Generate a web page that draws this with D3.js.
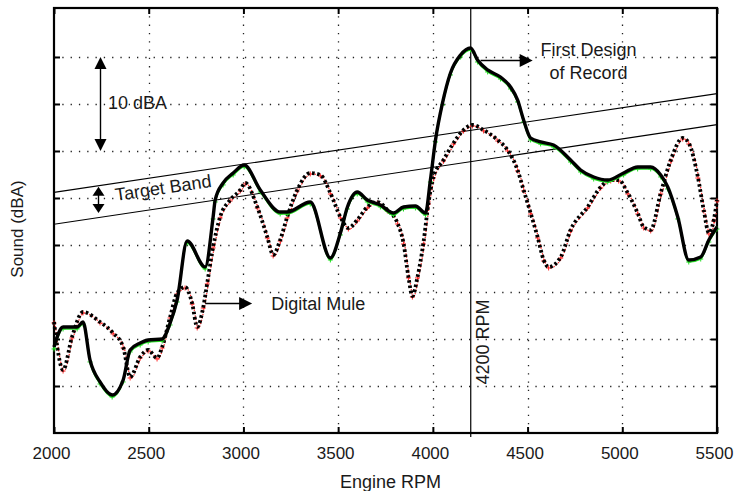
<!DOCTYPE html>
<html><head><meta charset="utf-8">
<script src="https://cdn.jsdelivr.net/npm/d3@7"></script>
<style>
body{margin:0;background:#fff;}
text{font-family:"Liberation Sans",Arial,sans-serif;fill:#1a1a1a;}
</style>
</head><body><svg id="c" width="737" height="491"></svg>
<script>
// ---- data ----
const rpmFirst = [2000,2048,2122,2153,2190,2243,2307,2365,2402,2455,2497,2571,2613,2650,2703,2798,2840,2851,2893,2946,3004,3089,3194,3231,3353,3459,3512,3549,3601,3654,3723,3792,3845,3908,3961,3987,4014,4051,4093,4146,4199,4236,4289,4357,4410,4447,4479,4516,4569,4637,4727,4780,4849,4923,5007,5081,5150,5203,5240,5293,5351,5414,5457,5500];
const dbFirst  = [69.15,71.28,71.28,71.81,67.77,65.43,64.04,65.64,68.83,69.57,69.89,70.0,71.7,74.15,80.43,77.66,82.98,84.79,86.6,87.66,88.51,85.85,83.51,83.51,84.57,78.62,81.28,84.04,85.64,84.79,84.26,83.4,84.04,84.15,83.4,86.91,91.17,95.11,98.3,100.21,100.96,99.68,98.62,97.87,96.81,95.43,93.3,91.38,90.96,90.64,89.04,87.98,87.23,86.91,87.66,88.3,88.3,87.45,86.17,82.98,78.4,78.72,80.53,81.91];
const rpmMule  = [2000,2048,2095,2153,2243,2312,2365,2402,2455,2497,2544,2571,2613,2650,2692,2729,2756,2788,2809,2840,2877,2930,2983,3010,3073,3126,3157,3194,3231,3284,3353,3406,3459,3512,3554,3601,3654,3707,3760,3813,3845,3871,3892,3919,3950,3977,4003,4056,4109,4162,4209,4268,4342,4394,4447,4479,4516,4553,4585,4611,4675,4727,4817,4886,4939,4981,5029,5081,5113,5150,5203,5256,5319,5351,5399,5430,5457,5483,5500];
const dbMule   = [71.81,66.7,70.21,72.87,71.81,70.64,69.15,65.96,68.09,68.83,67.98,69.15,72.34,74.89,75.53,73.83,71.28,73.4,75.96,79.79,82.98,84.79,85.85,86.6,84.04,80.85,78.94,80.53,82.98,85.85,87.66,87.45,85.53,82.98,81.81,82.66,84.04,84.57,83.72,82.34,80.21,76.6,74.57,76.6,80.21,84.47,87.23,89.04,90.85,92.23,92.77,92.23,91.17,90.11,87.98,85.85,83.4,80.85,78.4,77.66,78.72,81.6,84.04,86.17,86.91,86.91,85.53,83.4,81.91,81.6,85.53,89.04,91.38,90.85,87.23,83.72,81.28,82.66,84.79];
const bandRpm     = [2000,5500];
const bandUpperDb = [85.6,96.1];
const bandLowerDb = [82.2,92.8];
const xTicks = [2000,2500,3000,3500,4000,4500,5000,5500];
const yTicks = [65,70,75,80,85,90,95,100];
const refRpm = 4200;

// ---- layout ----
const svg = d3.select("#c");
const L=54, R=717, T=8, B=433;
const x = d3.scaleLinear().domain([2000,5500]).range([L,R]);
const y = d3.scaleLinear().domain([60,105.21]).range([B,T]);
const FS = 18;

// grid
const grid = svg.append("g").attr("stroke","#222").attr("stroke-width",1.3).attr("stroke-dasharray","1.3,7");
grid.selectAll("line.v").data(xTicks.slice(1,-1)).join("line")
  .attr("x1",d=>Math.round(x(d))+0.5).attr("x2",d=>Math.round(x(d))+0.5).attr("y1",T).attr("y2",B);
grid.selectAll("line.h").data(yTicks).join("line")
  .attr("y1",d=>Math.round(y(d))+0.5).attr("y2",d=>Math.round(y(d))+0.5).attr("x1",L).attr("x2",R);

// axes
const axB = d3.axisBottom(x).tickValues(xTicks).tickSize(-6).tickPadding(14).tickFormat(d3.format("d"));
const axT = d3.axisTop(x).tickValues(xTicks).tickSize(-6).tickFormat("");
const axLf = d3.axisLeft(y).tickValues(yTicks).tickSize(-6).tickFormat("");
const axRt = d3.axisRight(y).tickValues(yTicks).tickSize(-6).tickFormat("");
function style(g){g.select(".domain").remove(); g.selectAll(".tick line").attr("stroke","#000").attr("stroke-width",2);}
svg.append("g").attr("transform",`translate(0,${B})`).call(axB).call(style)
  .selectAll("text").attr("font-size",17).attr("fill","#1a1a1a").attr("font-family","Liberation Sans, Arial, sans-serif").attr("dx",-3);
svg.append("g").attr("transform",`translate(0,${T})`).call(axT).call(style);
svg.append("g").attr("transform",`translate(${L},0)`).call(axLf).call(style);
svg.append("g").attr("transform",`translate(${R},0)`).call(axRt).call(style);
svg.append("rect").attr("x",L).attr("y",T).attr("width",R-L).attr("height",B-T)
  .attr("fill","none").attr("stroke","#000").attr("stroke-width",2.2);

// target band
const bandLine = d3.line().x(d=>x(d[0])).y(d=>y(d[1]));
[bandUpperDb,bandLowerDb].forEach(arr=>{
  svg.append("path").attr("d",bandLine(bandRpm.map((r,i)=>[r,arr[i]])))
    .attr("fill","none").attr("stroke","#000").attr("stroke-width",1.1);
});

// 4200 rpm line
svg.append("line").attr("x1",x(refRpm)).attr("x2",x(refRpm)).attr("y1",T).attr("y2",B+4)
  .attr("stroke","#000").attr("stroke-width",1.2);
svg.append("text").attr("transform",`translate(${x(refRpm)+18},342) rotate(-90)`)
  .attr("text-anchor","middle").attr("font-size",FS).text("4200 RPM");

const line = d3.line().x(d=>x(d[0])).y(d=>y(d[1])).curve(d3.curveMonotoneX);
const first = rpmFirst.map((r,i)=>[r,dbFirst[i]]);
const mule = rpmMule.map((r,i)=>[r,dbMule[i]]);

function plus(g, pts, color, dx, dy){
  g.selectAll("path.p").data(pts).join("path")
   .attr("d",d=>{const cx=x(d[0])+dx, cy=y(d[1])+dy; return `M${cx-2.5},${cy}H${cx+2.5}M${cx},${cy-2.5}V${cy+2.5}`;})
   .attr("stroke",color).attr("stroke-width",1);
}

// Digital Mule: red dotted + black dashed
svg.append("path").attr("d",line(mule)).attr("fill","none").attr("stroke","#ff2a2a")
  .attr("stroke-width",1.2).attr("stroke-dasharray","1.5,1.5").attr("transform","translate(1,1)");
plus(svg.append("g"), mule, "#ff2a2a", 0, 1);
svg.append("path").attr("d",line(mule)).attr("fill","none").attr("stroke","#000")
  .attr("stroke-width",3.8).attr("stroke-dasharray","2.6,2.6");

// First design: green + black solid
svg.append("path").attr("d",line(first)).attr("fill","none").attr("stroke","#22dd22")
  .attr("stroke-width",1.5).attr("transform","translate(0,2)");
plus(svg.append("g"), first, "#22dd22", 0, 2);
svg.append("path").attr("d",line(first)).attr("fill","none").attr("stroke","#000")
  .attr("stroke-width",3.4).attr("stroke-linejoin","round");

// arrows
function arrowHead(px,py,dir,len,w){
  let p;
  if(dir==="up") p=`M${px},${py}L${px-w/2},${py+len}L${px+w/2},${py+len}Z`;
  else if(dir==="down") p=`M${px},${py}L${px-w/2},${py-len}L${px+w/2},${py-len}Z`;
  else p=`M${px},${py}L${px-len},${py-w/2}L${px-len},${py+w/2}Z`;
  svg.append("path").attr("d",p).attr("fill","#000");
}
function seg(x1,y1,x2,y2){svg.append("line").attr("x1",x1).attr("y1",y1).attr("x2",x2).attr("y2",y2).attr("stroke","#000").attr("stroke-width",1.4);}

// 10 dBA
const ax1 = Math.round(x(2243))+0.5;
seg(ax1,y(100)+6,ax1,y(90)-6); arrowHead(ax1,y(100),"up",12,12); arrowHead(ax1,y(90),"down",12,12);
svg.append("text").attr("x",x(2285)).attr("y",y(95.1)).attr("dy","0.35em").attr("font-size",FS).text("10 dBA");

// target band arrow
const ax2 = Math.round(x(2233))+0.5;
seg(ax2,y(86.2)+5,ax2,y(83.4)-5); arrowHead(ax2,y(86.2),"up",9,12); arrowHead(ax2,y(83.4),"down",9,12);
svg.append("text").attr("transform",`translate(${x(2576)},${y(86.1)}) rotate(-8.4)`)
  .attr("text-anchor","middle").attr("dy","0.35em").attr("font-size",FS).text("Target Band");

// Digital Mule arrow
const yM = Math.round(y(73.83))+0.5;
seg(x(2798),yM,x(3046)-10,yM); arrowHead(x(3046),yM,"right",13,13);
svg.append("text").attr("x",x(3147)).attr("y",yM).attr("dy","0.35em").attr("font-size",FS).text("Digital Mule");

// First Design arrow
const yF = Math.round(y(99.68))+0.5;
seg(x(4252),yF,x(4527)-10,yF); arrowHead(x(4527),yF,"right",13,13);
svg.append("text").attr("x",x(4822)).attr("y",y(100.74)).attr("dy","0.35em").attr("text-anchor","middle").attr("font-size",FS).text("First Design");
svg.append("text").attr("x",x(4822)).attr("y",y(98.3)).attr("dy","0.35em").attr("text-anchor","middle").attr("font-size",FS).text("of Record");

// axis titles
svg.append("text").attr("x",(L+R)/2+5).attr("y",488).attr("text-anchor","middle").attr("font-size",FS).text("Engine RPM");
svg.append("text").attr("transform",`translate(23,229) rotate(-90)`).attr("text-anchor","middle").attr("font-size",17).text("Sound (dBA)");
</script></body></html>
